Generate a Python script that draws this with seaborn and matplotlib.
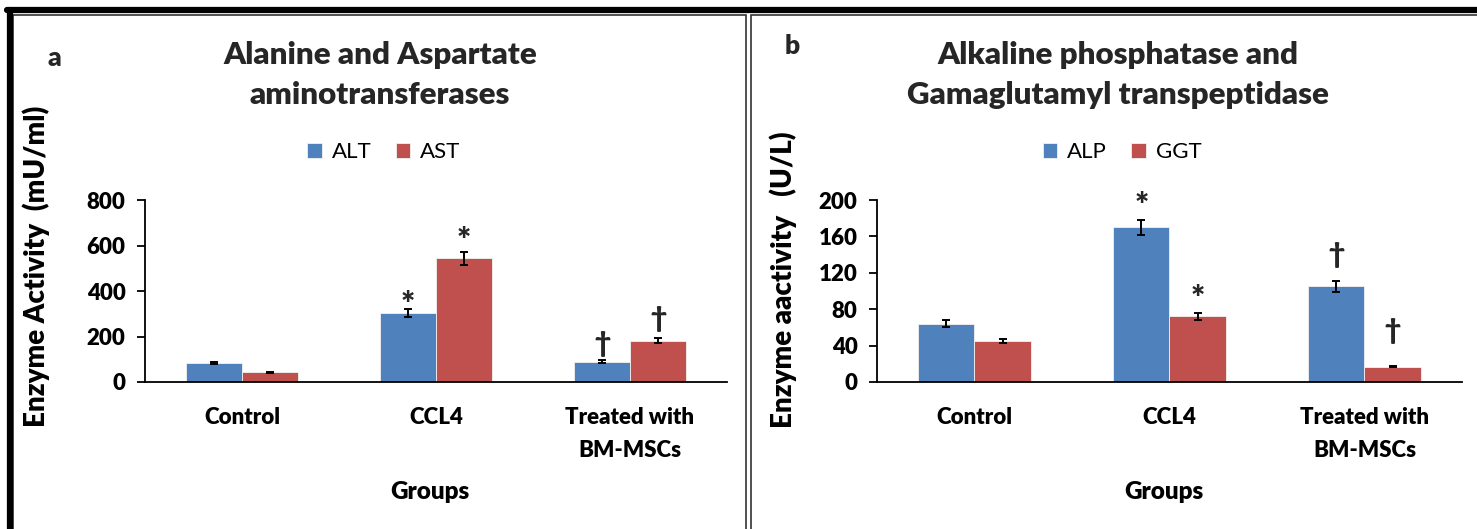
import numpy as np
import pandas as pd
import seaborn as sns
import matplotlib.pyplot as plt
from matplotlib.lines import Line2D
from matplotlib.patches import Rectangle

# values
groups = ["Control", "CCL4", "Treated with\nBM-MSCs"]

alt = [83, 303, 90]
alt_err = [5, 18, 8]
ast = [42, 543, 182]
ast_err = [3, 28, 12]

alp = [64, 170, 105]
alp_err = [4, 8, 6]
ggt = [45, 72, 17]
ggt_err = [2, 3.5, 1]

# significance marks per bar (first series, second series)
marks_a = [["", "*", "\u2020"], ["", "*", "\u2020"]]
marks_b = [["", "*", "\u2020"], ["", "*", "\u2020"]]

BLUE = "#4F81BD"
RED = "#C0504D"
WT = "heavy"

sns.set_theme(style="white")
plt.rcParams["font.family"] = ["Lato", "DejaVu Sans"]

W, H = 1477, 529
fig = plt.figure(figsize=(W / 100, H / 100), dpi=100)


def px(x, y):
    # pixel position -> figure fraction
    return x / W, 1 - y / H


def draw_panel(rect, names, s1, e1, s2, e2, marks, pads, ymax, step, ylabel):
    ax = fig.add_axes(rect)
    df = pd.DataFrame({
        "group": groups * 2,
        "enzyme": [names[0]] * 3 + [names[1]] * 3,
        "value": s1 + s2,
    })
    sns.barplot(data=df, x="group", y="value", hue="enzyme", palette=[BLUE, RED],
                width=0.575, errorbar=None, saturation=1, ax=ax,
                edgecolor="#f2f2f2", linewidth=0.6)
    handles, labels = ax.get_legend_handles_labels()
    ax.get_legend().remove()

    for k, (cont, vals, errs) in enumerate(zip(ax.containers, [s1, s2], [e1, e2])):
        xs = [p.get_x() + p.get_width() / 2 for p in cont.patches]
        ax.errorbar(xs, vals, yerr=errs, fmt="none", ecolor="black",
                    elinewidth=1.4, capsize=3.2, capthick=1.4)
        for x, v, e, m, p in zip(xs, vals, errs, marks[k], pads[k]):
            if m:
                fs = 24 if m == "*" else 20
                ax.annotate(m, (x, v + e), xytext=(0, p), textcoords="offset pixels",
                            ha="center", va="center", fontsize=fs, fontweight=WT)

    ax.set_ylim(0, ymax)
    ax.set_yticks(np.arange(0, ymax + 1, step))
    ax.set_xlim(-0.5, 2.5)
    sns.despine(ax=ax)
    for s in ["left", "bottom"]:
        ax.spines[s].set_color("black")
        ax.spines[s].set_linewidth(1.3)
    ax.tick_params(axis="y", left=True, length=6, width=1.3, color="black",
                   labelsize=16, pad=8, labelcolor="black")
    ax.tick_params(axis="x", length=0, labelsize=16, pad=18, labelcolor="black")
    for t in ax.get_yticklabels() + ax.get_xticklabels():
        t.set_fontweight(WT)
    for t in ax.get_xticklabels():
        t.set_linespacing(1.7)
    ax.set_xlabel("Groups", fontsize=17.5, fontweight=WT, color="black")
    ax.xaxis.set_label_coords(0.49, -0.545)
    ax.set_ylabel(ylabel, fontsize=20, fontweight=WT, color="black")
    return ax, handles, labels


axa, ha, la = draw_panel([145 / W, 1 - 382 / H, 582 / W, 182 / H], ["ALT", "AST"],
                         alt, alt_err, ast, ast_err, marks_a,
                         [[0, 3, 16], [0, 10, 19]], 800, 200,
                         "Enzyme Activity  (mU/ml)")
axb, hb, lb = draw_panel([877 / W, 1 - 382 / H, 585 / W, 182 / H], ["ALP", "GGT"],
                         alp, alp_err, ggt, ggt_err, marks_b,
                         [[0, 13, 26], [0, 13, 35]], 200, 40,
                         "Enzyme aactivity   (U/L)")
# y-label centres, in axes fractions
axa.yaxis.set_label_coords((50 - 145) / 582, (382 - 266) / 182)
axb.yaxis.set_label_coords((797 - 877) / 585, (382 - 280) / 182)

for h, l, cx in [(ha, la, 384), (hb, lb, 1122)]:
    fig.legend(h, l, loc="center", bbox_to_anchor=px(cx, 152), ncol=2, frameon=False,
               fontsize=16, handlelength=0.65, handleheight=0.65, handletextpad=0.45,
               columnspacing=1.1, labelcolor="black")

fig.text(*px(380, 75), "Alanine and Aspartate\naminotransferases", ha="center",
         va="center", fontsize=22.5, fontweight=WT, linespacing=1.55)
fig.text(*px(1118, 75), "Alkaline phosphatase and\nGamaglutamyl transpeptidase",
         ha="center", va="center", fontsize=22.5, fontweight=WT, linespacing=1.55)
fig.text(*px(54, 58), "a", ha="center", va="center", fontsize=19, fontweight=WT)
fig.text(*px(792, 46), "b", ha="center", va="center", fontsize=19, fontweight=WT)

# frame lines around the two panels
fig.add_artist(Line2D([7 / W, 1], [1 - 10 / H] * 2, color="black", lw=4.5,
                      transform=fig.transFigure))
fig.add_artist(Line2D([10 / W] * 2, [-0.05, 1 - 10 / H], color="black", lw=4.5,
                      transform=fig.transFigure))
fig.add_artist(Rectangle(px(13, 600), 733 / W, 585 / H, fill=False, ec="#333333",
                         lw=1.2, transform=fig.transFigure))
fig.add_artist(Rectangle(px(751, 600), 800 / W, 585 / H, fill=False, ec="#333333",
                         lw=1.2, transform=fig.transFigure))

fig.savefig("out.png", dpi=100)
